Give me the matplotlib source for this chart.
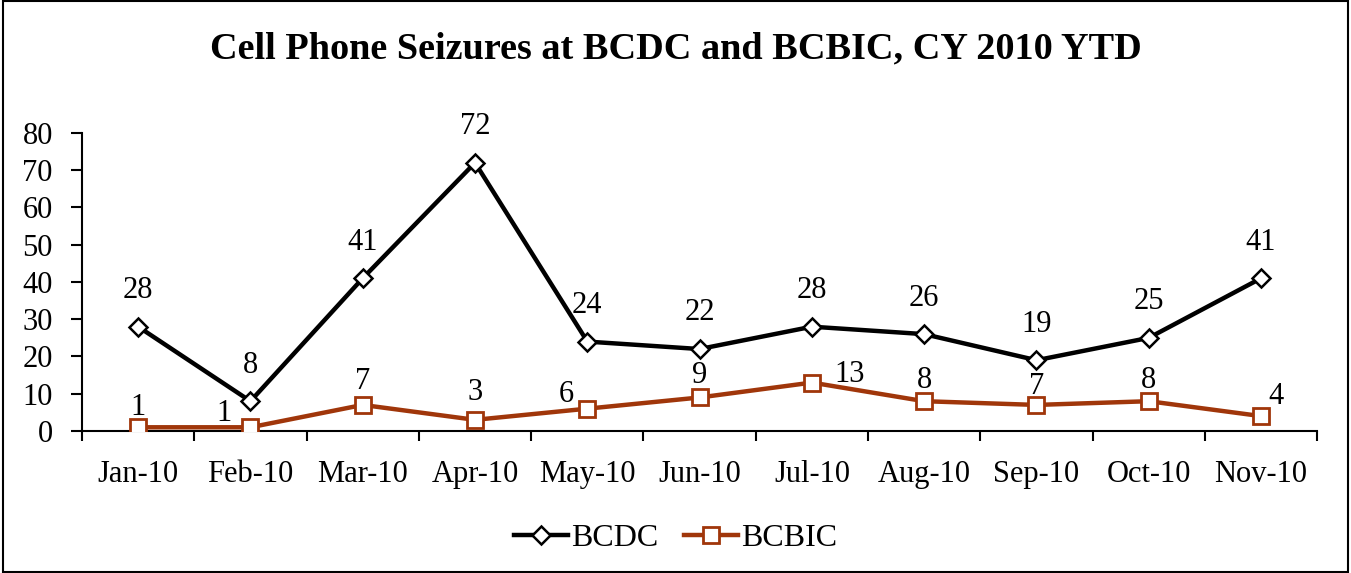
import matplotlib
matplotlib.use("Agg")
import matplotlib.pyplot as plt
from matplotlib.patches import Rectangle

months = ["Jan-10", "Feb-10", "Mar-10", "Apr-10", "May-10", "Jun-10",
          "Jul-10", "Aug-10", "Sep-10", "Oct-10", "Nov-10"]
bcdc = [28, 8, 41, 72, 24, 22, 28, 26, 19, 25, 41]
bcbic = [1, 1, 7, 3, 6, 9, 13, 8, 7, 8, 4]

# label offsets in points (dx, dy)
bcdc_off = [(0, 26)] * 11
bcbic_off = [(0, 14), (-19, 10), (0, 17), (0, 20), (-15, 10), (0, 16),
             (27, 6), (0, 15), (0, 13), (0, 15), (11, 14)]

plt.rcParams['font.family'] = ['Liberation Serif', 'DejaVu Serif']

fig = plt.figure(figsize=(13.51, 5.73), dpi=100)
ax = fig.add_axes([0.0607, 0.2478, 0.9143, 0.5202])

x = list(range(len(months)))
black = "#000000"
rust = "#A0360A"
l1, = ax.plot(x, bcdc, color=black, lw=3.2, marker="D", ms=9, mfc="white",
              mec=black, mew=1.8, label="BCDC", zorder=3)
l2, = ax.plot(x, bcbic, color=rust, lw=3.2, marker="s", ms=12, mfc="white",
              mec=rust, mew=2, label="BCBIC", zorder=3)

for xi, v, o in zip(x, bcdc, bcdc_off):
    ax.annotate(str(v), (xi, v), xytext=o, textcoords="offset points",
                ha="center", va="center", fontsize=22)
for xi, v, o in zip(x, bcbic, bcbic_off):
    ax.annotate(str(v), (xi, v), xytext=o, textcoords="offset points",
                ha="center", va="center", fontsize=22)

ax.set_xlim(-0.5, len(months) - 0.5)
ax.set_ylim(0, 80)
ax.set_yticks(range(0, 81, 10))
ax.tick_params(axis="y", direction="out", length=8, width=1.5, labelsize=22, pad=13)
ax.set_xticks([i - 0.5 for i in range(len(months) + 1)])
ax.set_xticklabels([])
ax.tick_params(axis="x", direction="out", length=7, width=1.5)
ax.set_xticks(x, minor=True)
ax.set_xticklabels(months, minor=True)
ax.tick_params(axis="x", which="minor", length=0, labelsize=22, pad=21)

for s in ["top", "right"]:
    ax.spines[s].set_visible(False)
for s in ["left", "bottom"]:
    ax.spines[s].set_linewidth(1.5)

fig.text(0.5, 0.915, "Cell Phone Seizures at BCDC and BCBIC, CY 2010 YTD",
         ha="center", va="center", fontsize=27.5, fontweight="bold")

fig.legend(handles=[l1, l2], loc="center", bbox_to_anchor=(0.5, 0.06), ncol=2,
           frameon=False, fontsize=23, handlelength=1.7, handletextpad=0.1,
           columnspacing=0.8)

fig.patches.append(Rectangle((0.002, 0.002), 0.996, 0.996, transform=fig.transFigure,
                             fill=False, edgecolor="black", lw=1.5))

fig.savefig("out.png", dpi=100)
